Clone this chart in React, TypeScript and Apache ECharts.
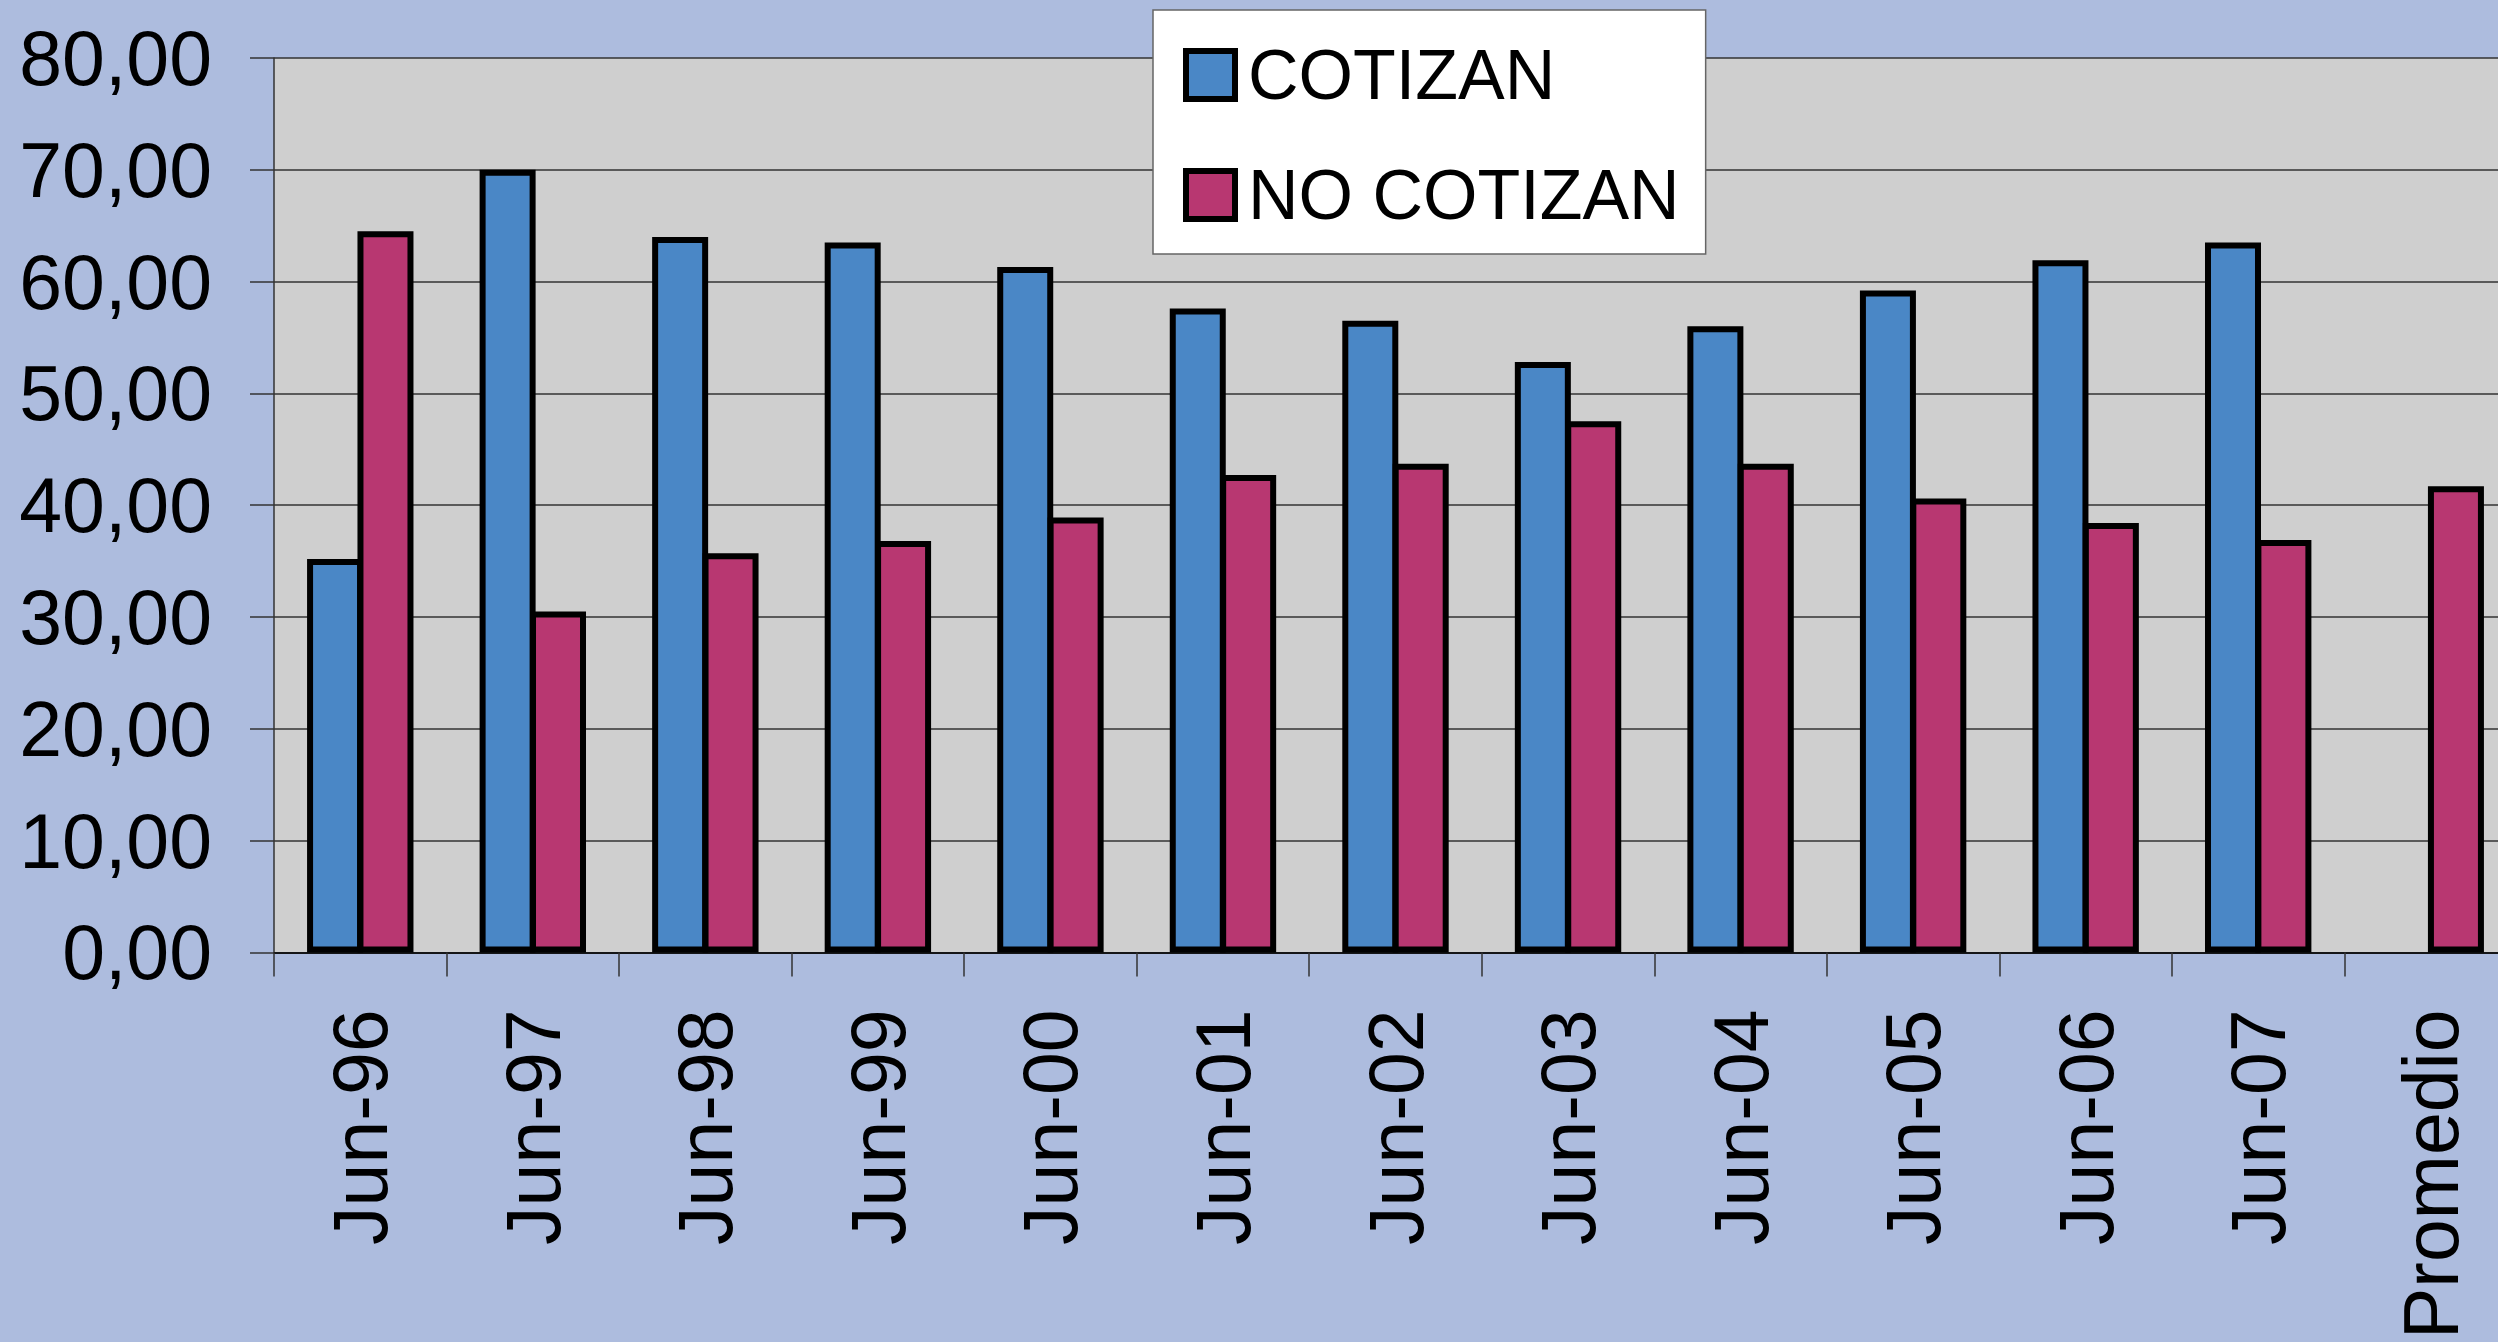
import React, { useEffect, useRef } from "react";
import * as echarts from "echarts";

const categories = [
  "Jun-96", "Jun-97", "Jun-98", "Jun-99", "Jun-00", "Jun-01", "Jun-02",
  "Jun-03", "Jun-04", "Jun-05", "Jun-06", "Jun-07", "Promedio",
];
const cotizan: (number | null)[] = [35.2, 70.0, 64.0, 63.5, 61.3, 57.6, 56.5, 52.8, 56.0, 59.2, 61.9, 63.5, null];
const noCotizan: number[] = [64.5, 30.5, 35.7, 36.8, 38.9, 42.7, 43.7, 47.5, 43.7, 40.6, 38.4, 36.9, 41.7];
const seriesNames = ["COTIZAN", "NO COTIZAN"];
const yMin = 0;
const yMax = 80;
const yStep = 10;

const FONT = "'Liberation Sans', Arial, Helvetica, sans-serif";

export default function App() {
  const ref = useRef<HTMLDivElement>(null);
  useEffect(() => {
    if (!ref.current) return;
    const chart = echarts.init(ref.current, undefined, { renderer: "svg" });
    chart.setOption({
      animation: false,
      backgroundColor: "#ADBCDE",
      textStyle: { fontFamily: FONT, color: "#000" },
      grid: {
        left: 274,
        top: 58,
        width: 2243,
        height: 896,
        show: true,
        backgroundColor: "#CFCFCF",
        borderWidth: 0,
      },
      legend: {
        data: seriesNames,
        orient: "vertical",
        left: 1153,
        top: 10,
        icon: "rect",
        itemWidth: 49,
        itemHeight: 48,
        itemGap: 50,
        itemStyle: { borderColor: "#000", borderWidth: 6 },
        textStyle: { fontSize: 70, fontFamily: FONT, color: "#000", lineHeight: 70, padding: [0, 0, 0, 8] },
        backgroundColor: "#FFFFFF",
        borderColor: "#666",
        borderWidth: 1.5,
        padding: [30, 26, 24, 30],
      },
      xAxis: {
        type: "category",
        data: categories,
        boundaryGap: true,
        axisLine: { show: true, lineStyle: { color: "#000", width: 1.5 } },
        axisTick: { show: true, length: 24, lineStyle: { color: "#333", width: 1.5 } },
        axisLabel: {
          rotate: 90,
          margin: 57,
          fontSize: 77,
          fontFamily: FONT,
          color: "#000",
          interval: 0,
        },
        splitLine: { show: false },
      },
      yAxis: {
        type: "value",
        min: yMin,
        max: yMax,
        interval: yStep,
        axisLine: { show: true, lineStyle: { color: "#333", width: 1.5 } },
        axisTick: { show: true, length: 24, lineStyle: { color: "#333", width: 1.5 } },
        axisLabel: {
          margin: 62,
          fontSize: 77,
          fontFamily: FONT,
          color: "#000",
          formatter: (v: number) => v.toFixed(2).replace(".", ","),
        },
        splitLine: { show: true, lineStyle: { color: "#333", width: 1.5 } },
      },
      series: [
        {
          name: seriesNames[0],
          type: "bar",
          data: cotizan,
          barWidth: 56,
          barGap: "-10%",
          itemStyle: { color: "#4A87C6", borderColor: "#000", borderWidth: 6 },
        },
        {
          name: seriesNames[1],
          type: "bar",
          data: noCotizan,
          barWidth: 56,
          barGap: "-10%",
          itemStyle: { color: "#B83771", borderColor: "#000", borderWidth: 6 },
        },
      ],
    });
    return () => chart.dispose();
  }, []);
  return (
    <div
      style={{
        position: "fixed",
        left: 0,
        top: 0,
        width: "2498px",
        height: "1342px",
        overflow: "hidden",
      }}
    >
      <div ref={ref} style={{ width: "2540px", height: "1342px" }} />
    </div>
  );
}
